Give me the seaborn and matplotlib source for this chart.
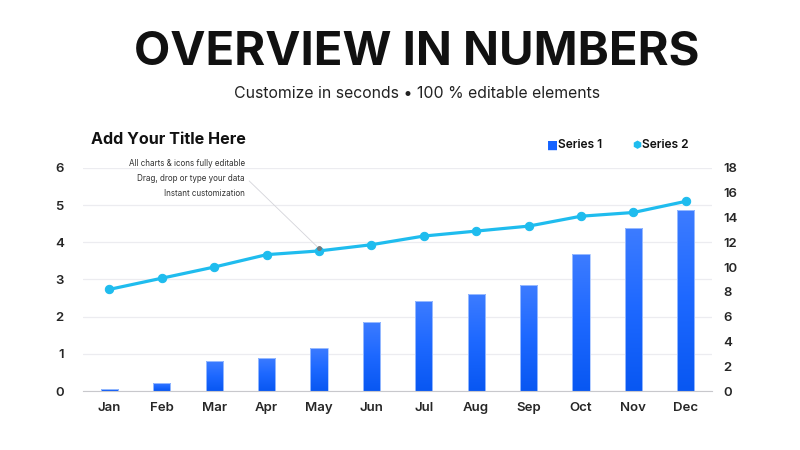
import numpy as np
import matplotlib
matplotlib.use("Agg")
import matplotlib.pyplot as plt
from matplotlib.colors import LinearSegmentedColormap
import seaborn as sns

sns.set_style("white")
plt.rcParams["font.family"] = ["Inter", "DejaVu Sans"]

months = ["Jan", "Feb", "Mar", "Apr", "May", "Jun",
          "Jul", "Aug", "Sep", "Oct", "Nov", "Dec"]
series1 = [0.05, 0.22, 0.80, 0.89, 1.16, 1.86, 2.42, 2.61, 2.85, 3.68, 4.38, 4.87]
series2 = [8.2, 9.1, 10.0, 11.0, 11.3, 11.8, 12.5, 12.9, 13.3, 14.1, 14.4, 15.3]
notes = ["All charts & icons fully editable",
         "Drag, drop or type your data",
         "Instant customization"]

fig = plt.figure(figsize=(8, 4.5), dpi=100)
ax = fig.add_axes([0.104, 0.131, 0.786, 0.496])

sns.barplot(x=months, y=series1, ax=ax, width=0.33, color="#1463ff")

# gradient fill on bars
grad = LinearSegmentedColormap.from_list("bar", ["#0857f2", "#1d68ff", "#3d7cff"])
img = np.linspace(0, 1, 256).reshape(-1, 1)
for p in ax.patches:
    x0, y0 = p.get_x(), p.get_y()
    w, h = p.get_width(), p.get_height()
    im = ax.imshow(img, cmap=grad, aspect="auto", origin="lower",
                   extent=[x0, x0 + w, y0, y0 + h], zorder=2)
    im.set_clip_path(p)
    p.set_facecolor("none")
    p.set_edgecolor("#a8c6ff")
    p.set_linewidth(0.6)
    p.set_zorder(3)
ax.set_xlim(-0.5, 11.5)
ax.set_ylim(0, 6)

ax.set_yticks(range(0, 7))
ax.yaxis.grid(True, color="#ececf0", linewidth=0.9)
ax.set_axisbelow(True)
for s in ["top", "right", "left"]:
    ax.spines[s].set_visible(False)
ax.spines["bottom"].set_color("#c8c8cc")
ax.set_xticks(np.arange(-0.5, 12, 1), minor=True)
ax.tick_params(axis="x", which="minor", length=5, color="#c8c8cc", width=0.8)
ax.tick_params(axis="x", which="major", length=0, pad=8, labelsize=9.5)
ax.tick_params(axis="y", length=0, pad=14, labelsize=9.5)
for lab in ax.get_xticklabels() + ax.get_yticklabels():
    lab.set_fontweight("semibold")

ax2 = ax.twinx()
sns.lineplot(x=np.arange(12), y=series2, ax=ax2, color="#1fbcee", linewidth=2.3,
             marker="o", markersize=6, markeredgecolor="#1fbcee", zorder=5)
ax2.set_ylim(0, 18)
ax2.set_yticks(range(0, 19, 2))
ax2.set_xlim(-0.5, 11.5)
for s in ["top", "right", "left", "bottom"]:
    ax2.spines[s].set_visible(False)
ax2.tick_params(axis="y", length=0, pad=8, labelsize=9.5)
for lab in ax2.get_yticklabels():
    lab.set_fontweight("semibold")

# headings
fig.text(0.521, 0.884, "OVERVIEW IN NUMBERS", ha="center", va="center",
         fontsize=34, fontweight="bold", color="#111111")
fig.text(0.521, 0.793, "Customize in seconds \u2022 100 % editable elements",
         ha="center", va="center", fontsize=11.4, color="#222222")
fig.text(0.114, 0.689, "Add Your Title Here", ha="left", va="center",
         fontsize=11.6, fontweight="bold", color="#111111")

# notes
for i, t in enumerate(notes):
    fig.text(0.306, 1 - (163 + i * 15.5) / 450, t, ha="right", va="center",
             fontsize=5.8, color="#333333")
ax2.annotate("", xy=(4.0, 11.5), xytext=(0.309, 1 - 179 / 450),
             textcoords="figure fraction",
             arrowprops=dict(arrowstyle="-", color="#d4d4da", linewidth=0.6))
ax2.plot([4.0], [11.55], marker="o", markersize=2.5, color="#777777", zorder=6)

# legend
fig.text(0.684, 0.678, "\u25a0", ha="left", va="center", fontsize=8.5, color="#1463ff",
         family=["DejaVu Sans"])
fig.text(0.697, 0.678, "Series 1", ha="left", va="center", fontsize=8.6,
         fontweight="semibold", color="#111111")
fig.text(0.790, 0.678, "\u2b22", ha="left", va="center", fontsize=7.5, color="#1fbcee",
         family=["DejaVu Sans"])
fig.text(0.802, 0.678, "Series 2", ha="left", va="center", fontsize=8.6,
         fontweight="semibold", color="#111111")

fig.savefig("out.png", dpi=100)
